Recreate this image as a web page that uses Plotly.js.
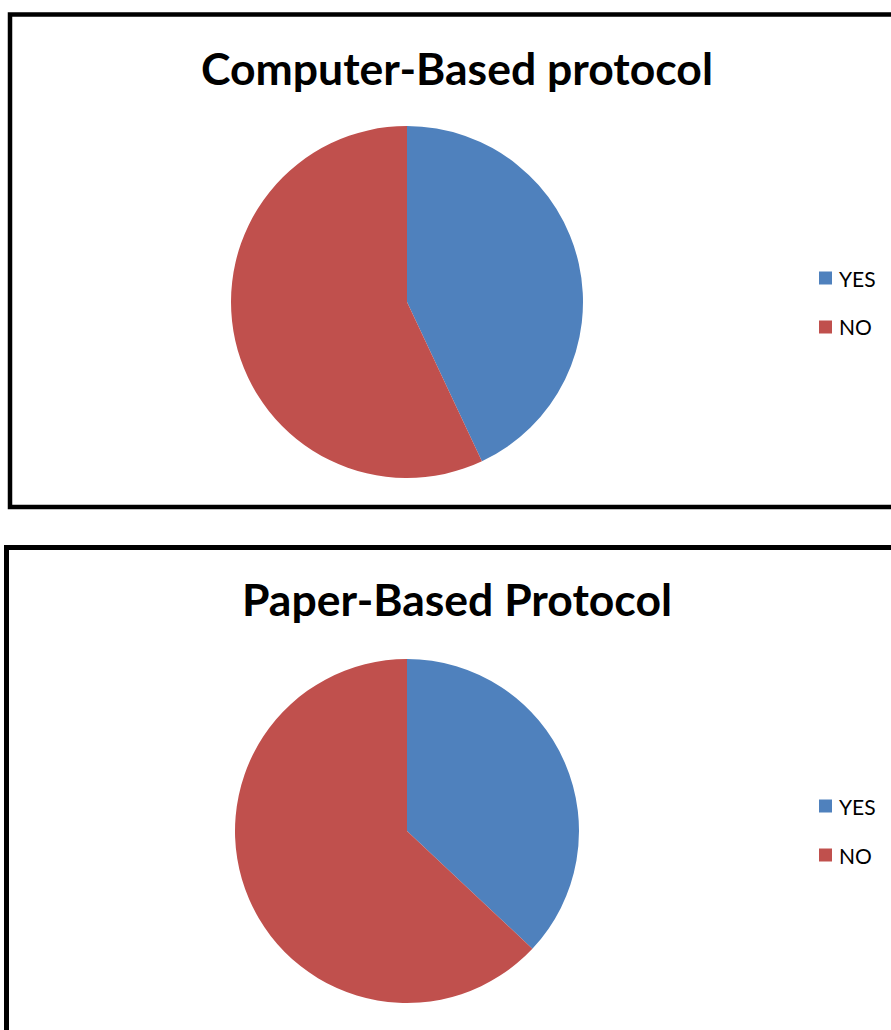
<!DOCTYPE html>
<html>
<head>
<meta charset="utf-8">
<script src="https://cdn.plot.ly/plotly-3.0.1.min.js"></script>
<style>html,body{margin:0;padding:0;background:#fff;}#chart{width:891px;height:1030px;}</style>
</head>
<body>
<div id="chart"></div>
<script>
const labels = ["YES", "NO"];
const computerValues = [43, 57];
const paperValues = [37, 63];
const titles = ["Computer-Based protocol", "Paper-Based Protocol"];
const colors = ["#4F81BD", "#C0504D"];

const W = 891, H = 1030;
const px = x => x / W;
const py = y => 1 - y / H;

const pies = [
  {values: computerValues, cx: 407, cy: 302, r: 176, titleY: 68, legY: 278},
  {values: paperValues, cx: 407, cy: 831, r: 172, titleY: 598, legY: 806}
];

const data = pies.map(p => ({
  type: "pie",
  labels: labels,
  values: p.values,
  sort: false,
  direction: "clockwise",
  rotation: 0,
  textinfo: "none",
  hoverinfo: "label+percent",
  marker: {colors: colors, line: {width: 0}},
  domain: {x: [px(p.cx - p.r), px(p.cx + p.r)], y: [py(p.cy + p.r), py(p.cy - p.r)]},
  showlegend: false
}));

const shapes = [
  {type: "rect", xref: "paper", yref: "paper", x0: px(10), x1: px(905), y0: py(507), y1: py(14.5),
   line: {color: "#000", width: 4.5}, fillcolor: "rgba(0,0,0,0)"},
  {type: "rect", xref: "paper", yref: "paper", x0: px(6.5), x1: px(905), y0: py(1060), y1: py(547.5),
   line: {color: "#000", width: 5}, fillcolor: "rgba(0,0,0,0)"}
];
const annotations = [];
pies.forEach((p, i) => {
  annotations.push({xref: "paper", yref: "paper", x: px(457), y: py(p.titleY), text: "<b>" + titles[i] + "</b>",
    showarrow: false, xanchor: "center", yanchor: "middle", font: {family: "Lato, Calibri, sans-serif", size: 44.5, color: "#000"}});
  labels.forEach((lab, j) => {
    const yc = p.legY + j * 49;
    shapes.push({type: "rect", xref: "paper", yref: "paper", x0: px(819), x1: px(832), y0: py(yc + 6.5), y1: py(yc - 6.5),
      line: {width: 0}, fillcolor: colors[j]});
    annotations.push({xref: "paper", yref: "paper", x: px(837), y: py(yc), text: lab, showarrow: false,
      xanchor: "left", yanchor: "middle", font: {family: "Lato, Calibri, sans-serif", size: 21, color: "#000"}});
  });
});

const layout = {
  width: W, height: H,
  margin: {l: 0, r: 0, t: 0, b: 0},
  paper_bgcolor: "#fff",
  showlegend: false,
  shapes: shapes,
  annotations: annotations
};
Plotly.newPlot("chart", data, layout, {displayModeBar: false, staticPlot: true});
</script>
</body>
</html>
